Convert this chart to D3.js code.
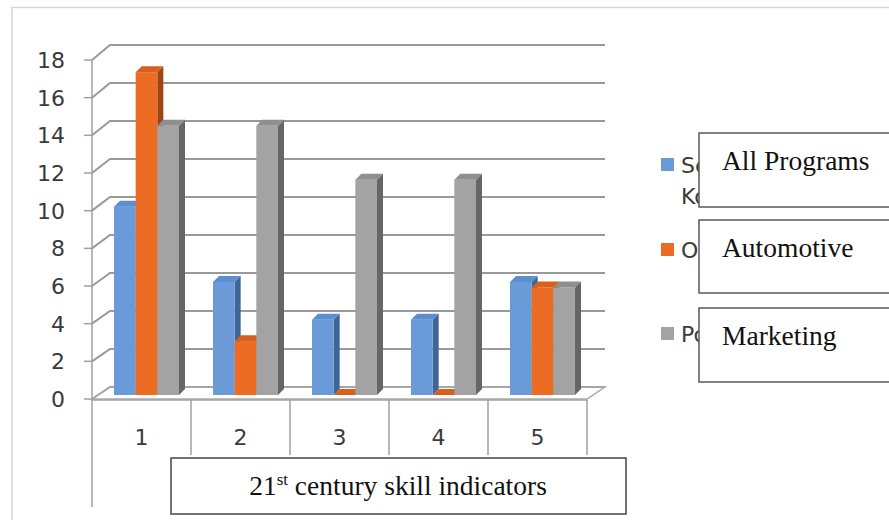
<!DOCTYPE html>
<html><head><meta charset="utf-8">
<script src="https://cdn.jsdelivr.net/npm/d3@7"></script>
<style>
html,body{margin:0;padding:0;background:#fff;}
svg{display:block;}
</style></head>
<body>
<svg id="chart" width="889" height="520"></svg>
<script>
const categories = ["1","2","3","4","5"];
const seriesNames = ["All Programs","Automotive","Marketing"];
const legendHidden = [["Se","Ko"],["O"],["Po"]];
const allPrograms = [10, 6, 4, 4, 6];
const automotive = [17.14, 2.86, 0, 0, 5.71];
const marketing = [14.29, 14.29, 11.43, 11.43, 5.71];
const yTicks = [0,2,4,6,8,10,12,14,16,18];

const values = [allPrograms, automotive, marketing];
const frontCol = ["#6a9bd8","#ec6c23","#a3a3a3"];
const sideCol = ["#3f6597","#9c4516","#666666"];
const topCol = ["#5b8fd0","#d8601c","#8f8f8f"];
const numFont = "DejaVu Sans, sans-serif";
const serif = "Liberation Serif, serif";

const svg = d3.select("#chart");

svg.append("path").attr("d","M12,520 L12,7.5 L889,7.5").attr("fill","none").attr("stroke","#d6d6d6").attr("stroke-width",1.5);

const y = d3.scaleLinear().domain([0,18]).range([399,60]);
const x = d3.scaleBand().domain(categories).range([92,587]);
const xs = d3.scaleBand().domain(d3.range(3)).range([0,65]);
const depthX = 18;
const depthDy = v => -12 - 3*v/18;
const grid = "#999999";

const g = svg.append("g");
yTicks.forEach(v=>{
  const yf = y(v), yb = y(v)+depthDy(v);
  g.append("path").attr("d",`M92,${yf} L${92+depthX},${yb} L605,${yb}`)
   .attr("fill","none").attr("stroke",grid).attr("stroke-width",2);
});
g.append("path").attr("d",`M92,${y(0)} L${92+depthX},${y(0)+depthDy(0)} L605,${y(0)+depthDy(0)} L587,${y(0)} Z`)
 .attr("fill","none").attr("stroke","#aaaaaa").attr("stroke-width",1.5);

g.append("line").attr("x1",92).attr("x2",92).attr("y1",y(18)).attr("y2",507).attr("stroke","#a0a0a0").attr("stroke-width",1.5);
yTicks.forEach(v=>{
  g.append("line").attr("x1",84).attr("x2",92).attr("y1",y(v)).attr("y2",y(v)).attr("stroke","#a0a0a0").attr("stroke-width",1.5);
  g.append("text").attr("x",65).attr("y",y(v)).attr("dy","0.37em").attr("text-anchor","end")
   .attr("font-family",numFont).attr("font-size",22).attr("fill","#3a3a3a").text(v);
});
g.append("line").attr("x1",92).attr("x2",587).attr("y1",400).attr("y2",400).attr("stroke","#a0a0a0").attr("stroke-width",1.5);
categories.forEach((c,i)=>{
  const xr = x(c)+x.bandwidth();
  g.append("line").attr("x1",xr).attr("x2",xr).attr("y1",400).attr("y2",455).attr("stroke","#a0a0a0").attr("stroke-width",1.5);
  g.append("text").attr("x",x(c)+x.bandwidth()/2).attr("y",437).attr("dy","0.37em").attr("text-anchor","middle")
   .attr("font-family",numFont).attr("font-size",22).attr("fill","#3a3a3a").text(c);
});

const bx = 5, by = -4, dx = 6, dy = -6;
const bars = svg.append("g");
categories.forEach((c,i)=>{
  const x0 = x(c) + (x.bandwidth()-65)/2 + bx;
  for(let s=0;s<3;s++){
    const v = values[s][i];
    const l = x0 + xs(s), r = l + xs.bandwidth();
    const t = y(v)+by, b = y(0)+by;
    bars.append("path").attr("d",`M${r},${t} L${r+dx},${t+dy} L${r+dx},${b+dy} L${r},${b} Z`).attr("fill",sideCol[s]);
    if(b-t>0) bars.append("rect").attr("x",l).attr("y",t).attr("width",r-l).attr("height",b-t).attr("fill",frontCol[s]);
    bars.append("path").attr("d",`M${l},${t} L${l+dx},${t+dy} L${r+dx},${t+dy} L${r},${t} Z`).attr("fill",topCol[s]);
  }
});

const leg = svg.append("g");
const legY = [158,243,327];
seriesNames.forEach((n,s)=>{
  leg.append("rect").attr("x",661).attr("y",legY[s]).attr("width",13).attr("height",13).attr("fill",frontCol[s]);
  legendHidden[s].forEach((t,k)=>{
    leg.append("text").attr("x",681).attr("y",legY[s]+15+k*31).attr("font-family",numFont)
      .attr("font-size",22).attr("fill","#3a3a3a").text(t);
  });
});
const boxes = [[133,207],[220,293],[308,382]];
seriesNames.forEach((n,s)=>{
  const [t,b] = boxes[s];
  svg.append("rect").attr("x",699).attr("y",t).attr("width",200).attr("height",b-t).attr("fill","#fff").attr("stroke","#5a5a5a").attr("stroke-width",1.5);
  svg.append("text").attr("x",722).attr("y",t+37).attr("font-family",serif).attr("font-size",27.5).attr("fill","#111").text(n);
});

svg.append("rect").attr("x",171).attr("y",458).attr("width",455).attr("height",56).attr("fill","#fff").attr("stroke","#444").attr("stroke-width",1.5);
const tt = svg.append("text").attr("x",398).attr("y",495).attr("text-anchor","middle").attr("font-family",serif).attr("font-size",27.5).attr("fill","#111");
tt.append("tspan").text("21");
tt.append("tspan").attr("dy",-10).attr("font-size",17).text("st");
tt.append("tspan").attr("dy",10).text(" century skill indicators");
</script>
</body></html>
